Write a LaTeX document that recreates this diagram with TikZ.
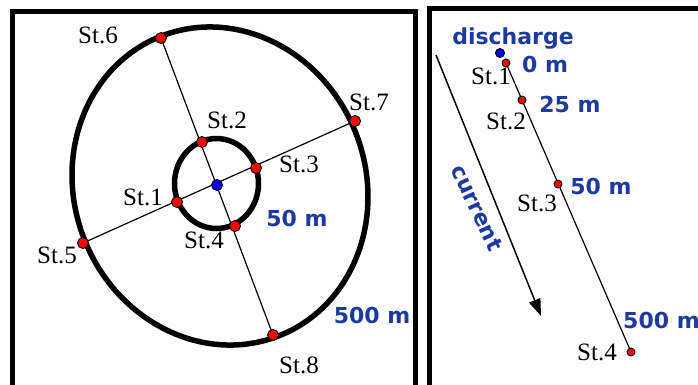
\documentclass[tikz,border=0pt]{standalone}
\usepackage{fontspec}
\setmainfont{Liberation Serif}
\newfontfamily\labfont{DejaVu Sans}
\usetikzlibrary{arrows.meta}
\definecolor{lblue}{RGB}{28,58,160}
\definecolor{dred}{RGB}{255,0,0}
\definecolor{dblue}{RGB}{0,0,255}
\tikzset{
  frame/.style={line width=5pt},
  ring/.style={line width=5.5pt},
  thin/.style={line width=1.2pt},
  reddot/.style={circle, draw=black, line width=0.9pt, fill=dred, minimum size=11pt, inner sep=0pt},
  bluedot/.style={circle, draw=black, line width=0.9pt, fill=dblue, minimum size=11pt, inner sep=0pt},
  sreddot/.style={circle, draw=black, line width=0.9pt, fill=dred, minimum size=8pt, inner sep=0pt},
  sbluedot/.style={circle, draw=black, line width=0.9pt, fill=dblue, minimum size=9pt, inner sep=0pt},
  st/.style={font=\fontsize{25}{25}\selectfont, inner sep=0pt, anchor=base},
  dist/.style={font=\labfont\bfseries\fontsize{22}{22}\selectfont, text=lblue, inner sep=0pt, anchor=base},
}
\begin{document}
\begin{tikzpicture}[x=1pt,y=-1pt]
\useasboundingbox (0,0) rectangle (698,384);
\begin{scope}
\clip (0,0) rectangle (698,384);
% frames
\draw[frame] (12.5,11) rectangle (415,400);
\draw[frame] (429,8) rectangle (720,400);

% ---------- left panel ----------
\coordinate (c) at (217,185);
\coordinate (e) at (220,186);
\coordinate (p6) at (161,38);
\coordinate (p8) at (273,335);
\coordinate (p5) at (83,243);
\coordinate (p7) at (355,121);
\coordinate (p2) at (202,142);
\coordinate (p3) at (256,168);
\coordinate (p1) at (177,202);
\coordinate (p4) at (235,226);

\draw[ring, rotate around={21.7:(e)}] (e) ellipse [x radius=145.8pt, y radius=161pt];
\draw[ring] (216.5,183.5) ellipse [x radius=42pt, y radius=45pt];
\draw[thin] (p6) -- (p8);
\draw[thin] (p5) -- (p7);

\node[bluedot] (n0) at (c) {};
\node[reddot] (n1) at (p1) {};
\node[reddot] (n2) at (p2) {};
\node[reddot] (n3) at (p3) {};
\node[reddot] (n4) at (p4) {};
\node[reddot] (n5) at (p5) {};
\node[reddot] (n6) at (p6) {};
\node[reddot] (n7) at (p7) {};
\node[reddot] (n8) at (p8) {};

\node[st] (l6) at (98,43) {St.6};
\node[st] (l7) at (369,110) {St.7};
\node[st] (l2) at (227,128) {St.2};
\node[st] (l3) at (299,172) {St.3};
\node[st] (l1) at (143,205) {St.1};
\node[st] (l4) at (204,248) {St.4};
\node[st] (l5) at (57,263) {St.5};
\node[st] (l8) at (299,373) {St.8};
\node[dist] (d50) at (297,226) {50 m};
\node[dist] (d500) at (372,323) {500 m};

% ---------- right panel ----------
\coordinate (q0) at (500,53);
\coordinate (q1) at (506,63);
\coordinate (q2) at (522,100);
\coordinate (q3) at (558,184);
\coordinate (q4) at (631,352);
\coordinate (a1) at (436,55);
\coordinate (a2) at (541,316);

\draw[thin] (q1) -- (q4);
\draw[line width=1.5pt, -{Triangle[length=17pt,width=12pt]}] (a1) -- (a2);

\node[sbluedot] (m0) at (q0) {};
\node[sreddot] (m1) at (q1) {};
\node[sreddot] (m2) at (q2) {};
\node[sreddot] (m3) at (q3) {};
\node[sreddot] (m4) at (q4) {};

\node[dist] (dis) at (513,44) {discharge};
\node[dist] (r0) at (545,72) {0 m};
\node[dist] (r25) at (570,112) {25 m};
\node[dist] (r50) at (601,194) {50 m};
\node[dist, anchor=base west] (r500) at (623,328) {500 m};
\node[dist, anchor=center, rotate=-65] (cur) at (477,208) {current};

\node[st] (k1) at (491,84) {St.1};
\node[st] (k2) at (506,129) {St.2};
\node[st] (k3) at (537,211) {St.3};
\node[st] (k4) at (597,360) {St.4};
\end{scope}
\end{tikzpicture}
\end{document}
